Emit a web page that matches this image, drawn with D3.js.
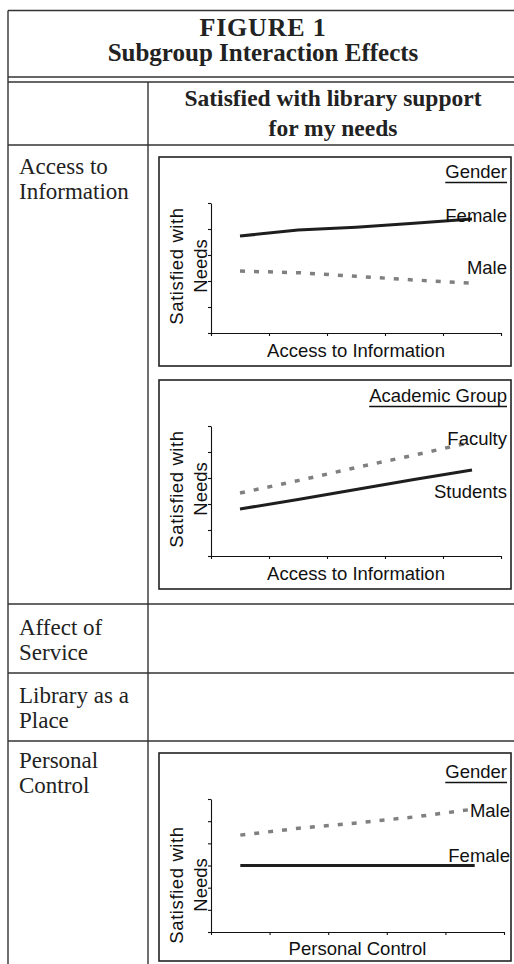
<!DOCTYPE html>
<html><head><meta charset="utf-8">
<script src="https://cdn.jsdelivr.net/npm/d3@7"></script>
<style>body{margin:0;background:#fff} svg{display:block}</style>
</head><body><svg id="c" width="514" height="964"></svg>
<script>
// ---------- data ----------
const titleLines = ["FIGURE 1", "Subgroup Interaction Effects"];
const columnHeader = ["Satisfied with library support", "for my needs"];
const rowLabels = [["Access to", "Information"], ["Affect of", "Service"], ["Library as a", "Place"], ["Personal", "Control"]];
const xLevels = [1, 2, 3, 4, 5];
const yTicks5 = [0, 1, 2, 3, 4, 5];
const yTicks6 = [0, 1, 2, 3, 4, 5, 6];
const yAxisLabel = ["Satisfied with", "Needs"];
const panelTitles = ["Gender", "Academic Group", "Gender"];
const panelXLabels = ["Access to Information", "Access to Information", "Personal Control"];
const accessFemale = [3.73, 3.96, 4.07, 4.22, 4.38];
const accessMale = [2.38, 2.32, 2.18, 2.04, 1.92];
const accessFaculty = [2.42, 2.90, 3.40, 3.88, 4.38];
const accessStudents = [1.81, 2.17, 2.56, 2.94, 3.31];
const controlMale = [4.37, 4.68, 4.92, 5.20, 5.55];
const controlFemale = [3.0, 3.0, 3.0, 3.0, 3.0];

const panels = [
  { title: panelTitles[0], xLabel: panelXLabels[0], yTicks: yTicks5,
    series: [{ name: "Female", values: accessFemale, dashed: false }, { name: "Male", values: accessMale, dashed: true }] },
  { title: panelTitles[1], xLabel: panelXLabels[1], yTicks: yTicks5,
    series: [{ name: "Faculty", values: accessFaculty, dashed: true }, { name: "Students", values: accessStudents, dashed: false }] },
  { title: panelTitles[2], xLabel: panelXLabels[2], yTicks: yTicks6,
    series: [{ name: "Male", values: controlMale, dashed: true }, { name: "Female", values: controlFemale, dashed: false }] }
];

// ---------- layout ----------
const serif = "'Liberation Serif','Times New Roman',serif";
const sans = "'Liberation Sans',Arial,sans-serif";
const T = { left: 8, col: 148, right: 514, top: 10.5, dbl1: 77, dbl2: 82, head: 145, rows: [604, 673, 741], bottom: 964 };
const rowText = [{ y: 174 }, { y: 635 }, { y: 703 }, { y: 768 }];
const panelLayout = [
  { box: [159, 157, 511, 366], x: [211, 501], y: [333, 203], title: [507, 178], xlab: 357, ylabY: 266, labX: 507, labY: [4.27, 2.27] },
  { box: [159, 380, 511, 589], x: [211, 501], y: [556, 426], title: [507, 402], xlab: 580, ylabY: 489, labX: 507, labY: [4.27, 2.23] },
  { box: [159, 753, 511, 961], x: [211, 504], y: [932, 799], title: [507, 778], xlab: 955, ylabY: 885, labX: 510, labY: [5.19, 3.16] }
];

const svg = d3.select("#c");
svg.append("rect").attr("width", 514).attr("height", 964).attr("fill", "#fff");

// table rules
const rule = "#333";
const hl = (y) => svg.append("line").attr("x1", T.left).attr("x2", T.right).attr("y1", y).attr("y2", y)
  .attr("stroke", rule).attr("stroke-width", 1.4);
[T.top, T.dbl1, T.dbl2, T.head, ...T.rows].forEach(hl);
svg.append("line").attr("x1", T.left).attr("x2", T.left).attr("y1", T.top).attr("y2", T.bottom).attr("stroke", rule).attr("stroke-width", 1.4);
svg.append("line").attr("x1", T.col).attr("x2", T.col).attr("y1", T.dbl2).attr("y2", T.bottom).attr("stroke", rule).attr("stroke-width", 1.4);

// title
svg.selectAll("text.title").data(titleLines).join("text").attr("class", "title")
  .attr("x", 263).attr("y", (d, i) => [36, 61][i]).attr("text-anchor", "middle")
  .attr("font-family", serif).attr("font-weight", "bold").attr("font-size", (d, i) => i === 0 ? 26 : 25)
  .attr("letter-spacing", (d, i) => i === 0 ? 0.8 : 0).attr("fill", "#222").text(d => d);
svg.selectAll("text.colhead").data(columnHeader).join("text").attr("class", "colhead")
  .attr("x", 333).attr("y", (d, i) => [106, 136][i]).attr("text-anchor", "middle")
  .attr("font-family", serif).attr("font-weight", "bold").attr("font-size", 23.5).attr("fill", "#222").text(d => d);

// row labels
rowLabels.forEach((lines, r) => {
  svg.selectAll(null).data(lines).join("text")
    .attr("x", 19).attr("y", (d, i) => rowText[r].y + i * 24.5)
    .attr("font-family", serif).attr("font-size", 23).attr("fill", "#222").text(d => d);
});

// panels
panels.forEach((p, k) => {
  const L = panelLayout[k];
  const g = svg.append("g");
  g.append("rect").attr("x", L.box[0]).attr("y", L.box[1]).attr("width", L.box[2] - L.box[0]).attr("height", L.box[3] - L.box[1])
    .attr("fill", "#fff").attr("stroke", "#222").attr("stroke-width", 1.6);
  const xs = d3.scaleLinear().domain([0, xLevels.length]).range(L.x);
  const ymax = p.yTicks[p.yTicks.length - 1];
  const ys = d3.scaleLinear().domain([0, ymax]).range(L.y);
  const xAxis = g.append("g").attr("transform", `translate(0,${L.y[0]})`)
    .call(d3.axisBottom(xs).tickValues(d3.range(0, xLevels.length + 1)).tickFormat("").tickSize(3).tickSizeOuter(0));
  const yAxis = g.append("g").attr("transform", `translate(${L.x[0]},0)`)
    .call(d3.axisLeft(ys).tickValues(p.yTicks).tickFormat("").tickSize(3).tickSizeOuter(0));
  [xAxis, yAxis].forEach(a => { a.selectAll("path,line").attr("stroke", "#111").attr("stroke-width", 1.1); });

  const line = d3.line().x((d, i) => xs(i + 0.5)).y(d => ys(d));
  p.series.forEach((s, j) => {
    g.append("path").datum(s.values).attr("d", line).attr("fill", "none")
      .attr("stroke", s.dashed ? "#808080" : "#1e1e1e")
      .attr("stroke-width", s.dashed ? 3.5 : 3)
      .attr("stroke-dasharray", s.dashed ? "5,9" : null);
    g.append("text").attr("x", L.labX).attr("y", ys(L.labY[j])).attr("text-anchor", "end")
      .attr("font-family", sans).attr("font-size", 18.5).attr("fill", "#111").text(s.name);
  });

  const t = g.append("text").attr("x", L.title[0]).attr("y", L.title[1]).attr("text-anchor", "end")
    .attr("font-family", sans).attr("font-size", 18.5).attr("fill", "#111").text(p.title);
  const bb = t.node().getBBox();
  g.append("line").attr("x1", bb.x).attr("x2", bb.x + bb.width).attr("y1", L.title[1] + 4.5).attr("y2", L.title[1] + 4.5)
    .attr("stroke", "#111").attr("stroke-width", 1.3);

  g.append("text").attr("x", (L.x[0] + L.x[1]) / 2).attr("y", L.xlab).attr("text-anchor", "middle")
    .attr("font-family", sans).attr("font-size", 18.5).attr("fill", "#111").text(p.xLabel);

  g.selectAll(null).data(yAxisLabel).join("text")
    .attr("transform", (d, i) => `translate(${[183, 207][i]},${L.ylabY}) rotate(-90)`)
    .attr("text-anchor", "middle").attr("font-family", sans).attr("font-size", 18.5)
    .attr("letter-spacing", (d, i) => i === 0 ? 0.6 : 0).attr("fill", "#111").text(d => d);
});
</script></body></html>
